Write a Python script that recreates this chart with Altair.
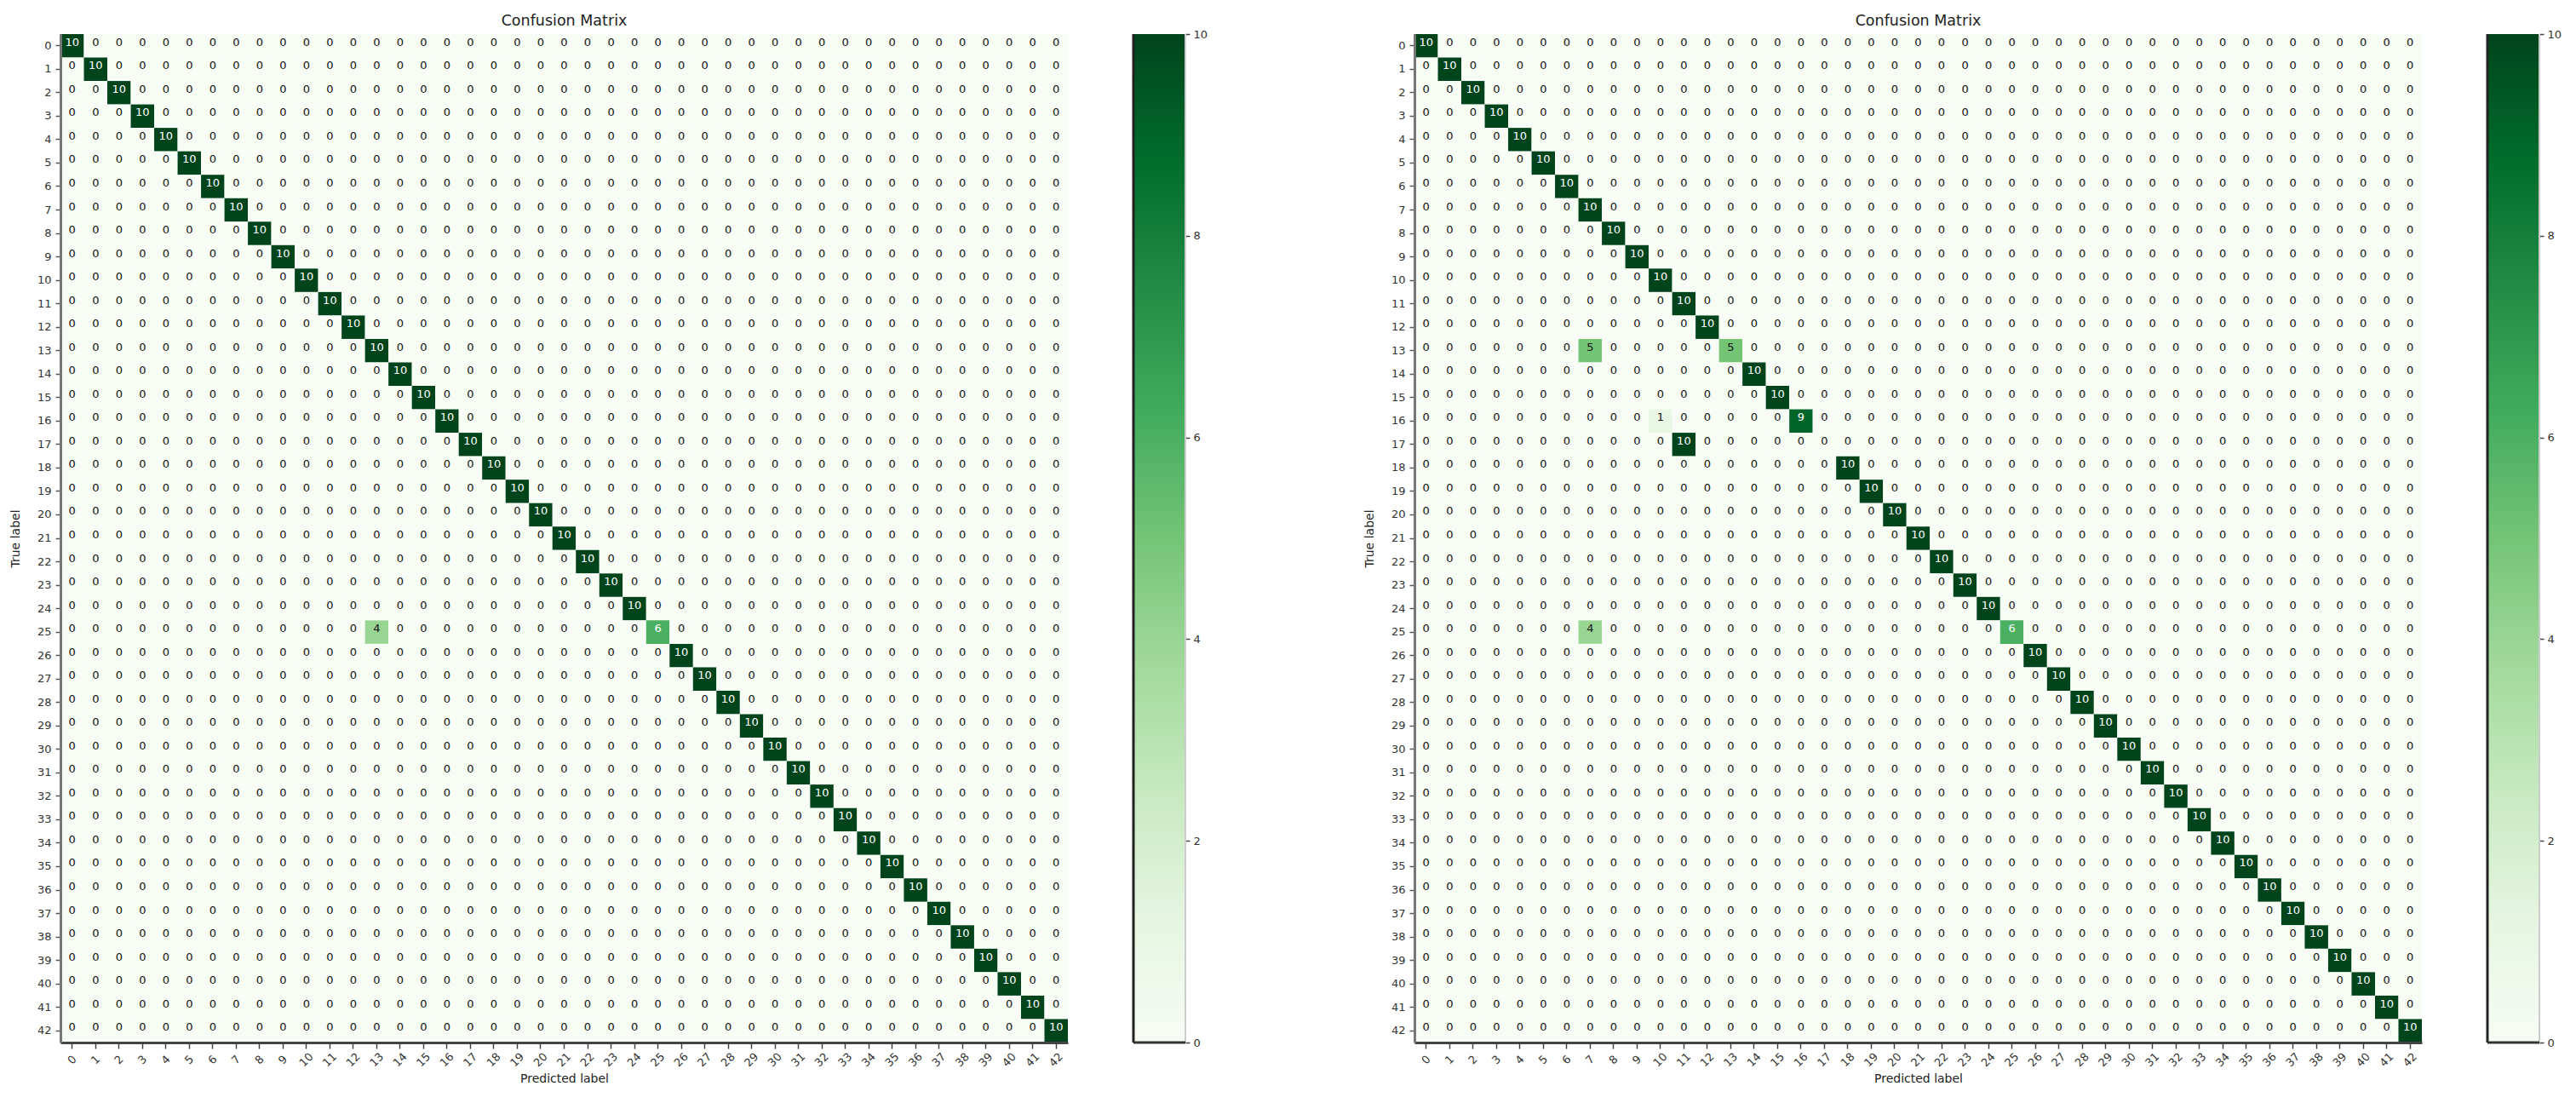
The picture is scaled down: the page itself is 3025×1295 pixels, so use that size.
import altair as alt
import pandas as pd

class_labels = list(range(43))
tick_values = [0, 2, 4, 6, 8, 10]
greens_colors = ["#f7fcf5", "#e5f5e0", "#c7e9c0", "#a1d99b", "#74c476",
                 "#41ab5d", "#238b45", "#006d2c", "#00441b"]
greens_domain = [0, 1.25, 2.5, 3.75, 5, 6.25, 7.5, 8.75, 10]

# (true row, predicted column, count) where the matrix differs from a perfect diagonal of 10
left_changes = [(25, 13, 4), (25, 25, 6)]
right_changes = [(13, 7, 5), (13, 13, 5), (16, 10, 1), (16, 16, 9),
                 (17, 11, 10), (17, 17, 0), (25, 7, 4), (25, 25, 6)]


def table(changes):
    rows = []
    over = {(r, c): v for r, c, v in changes}
    for r in class_labels:
        for c in class_labels:
            v = over.get((r, c), 10 if r == c else 0)
            rows.append({"true": r, "pred": c, "value": v})
    return pd.DataFrame(rows)


def matrix(changes):
    df = table(changes)
    x = alt.X("pred:O", scale=alt.Scale(domain=class_labels, paddingInner=0, paddingOuter=0),
              axis=alt.Axis(title="Predicted label", titleFontSize=14, titleFontWeight="normal",
                            titleFont="DejaVu Sans", titlePadding=5, titleColor="#222",
                            labelAngle=315, labelAlign="center", labelBaseline="middle",
                            labelPadding=13, labelFontSize=13, labelFont="DejaVu Sans",
                            labelColor="#333", tickSize=7, tickWidth=1.5, tickColor="#444",
                            domainWidth=3, domainColor="#444", grid=False, labelOverlap=False))
    y = alt.Y("true:O", scale=alt.Scale(domain=class_labels, paddingInner=0, paddingOuter=0),
              axis=alt.Axis(title="True label", titleFontSize=14, titleFontWeight="normal",
                            titleFont="DejaVu Sans", titleX=-46, titleColor="#222",
                            labelFontSize=13, labelFont="DejaVu Sans", labelColor="#333",
                            labelAngle=0, labelPadding=5, tickSize=6, tickWidth=1.5,
                            tickColor="#555", domainWidth=3, domainColor="#777",
                            grid=False, labelOverlap=False))
    rect = alt.Chart(df).mark_rect(strokeWidth=0).encode(
        x=x, y=y,
        color=alt.Color("value:Q", legend=None,
                        scale=alt.Scale(domain=greens_domain, range=greens_colors, clamp=True)))
    dark = alt.Chart(df[df["value"] <= 5]).mark_text(
        fontSize=13, font="DejaVu Sans", dy=-4, color="#111").encode(x=x, y=y, text="value:Q")
    light = alt.Chart(df[df["value"] > 5]).mark_text(
        fontSize=13, font="DejaVu Sans", dy=-4, color="white").encode(x=x, y=y, text="value:Q")
    return alt.layer(rect, dark, light).properties(
        width=1183, height=1184,
        title=alt.TitleParams("Confusion Matrix", fontSize=17.5, fontWeight="normal",
                              font="DejaVu Sans", color="#222", anchor="middle", offset=7))


def colorbar():
    stops = [alt.GradientStop(color=c, offset=d / 10) for c, d in zip(greens_colors, greens_domain)]
    band = alt.Chart(pd.DataFrame({"low": [0], "high": [10]})).mark_rect(
        color=alt.LinearGradient(gradient="linear", stops=stops, x1=0, x2=0, y1=1, y2=0)
    ).encode(
        y=alt.Y("low:Q", scale=alt.Scale(domain=[0, 10], nice=False),
                axis=alt.Axis(orient="right", values=tick_values, title=None, grid=False,
                              domain=False, tickSize=5, tickWidth=1.5, tickColor="#444",
                              labelFontSize=13, labelFont="DejaVu Sans", labelColor="#333",
                              labelPadding=4, labelBaseline="middle", format="d")),
        y2="high:Q")
    left = alt.Chart(pd.DataFrame({"a": [0]})).mark_rule(color="#222", strokeWidth=3).encode(
        x=alt.value(0), y=alt.value(0), y2=alt.value(1184))
    right = alt.Chart(pd.DataFrame({"a": [0]})).mark_rule(color="#ccc", strokeWidth=2).encode(
        x=alt.value(61), y=alt.value(0), y2=alt.value(1184))
    bottom = alt.Chart(pd.DataFrame({"a": [0]})).mark_rule(color="#333", strokeWidth=3).encode(
        x=alt.value(0), x2=alt.value(61), y=alt.value(1184))
    return alt.layer(band, left, right, bottom).properties(width=61, height=1184)


spacer = alt.Chart(pd.DataFrame({"a": [0]})).mark_rule(opacity=0).encode(
    x=alt.value(0)).properties(width=115, height=1184)

chart = alt.hconcat(matrix(left_changes), colorbar(), spacer, matrix(right_changes), colorbar(),
                    spacing=77, bounds="flush").properties(
    padding={"left": 3, "top": 7, "right": 5, "bottom": 5}
).configure_view(stroke=None)

chart.save("out.html", embed_options={"renderer": "svg", "actions": False})
